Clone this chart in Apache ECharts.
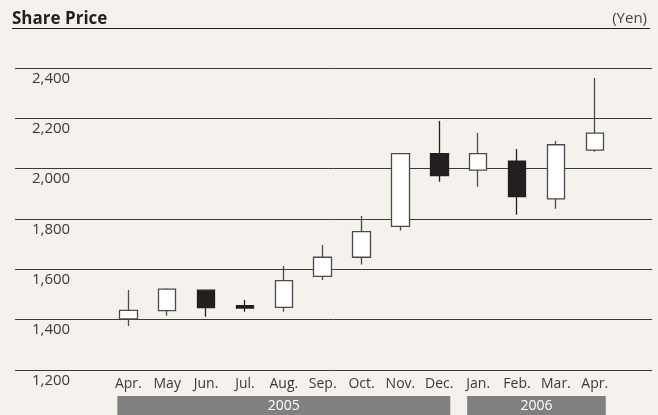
<!DOCTYPE html>
<html>
<head>
<meta charset="utf-8">
<script src="https://cdn.jsdelivr.net/npm/echarts@6/dist/echarts.min.js"></script>
<style>
html,body{margin:0;padding:0;background:#f5f1ed;}
#c{width:658px;height:415px;}
</style>
</head>
<body>
<div id="c"></div>
<script>
const categories = ['Apr.','May','Jun.','Jul.','Aug.','Sep.','Oct.','Nov.','Dec.','Jan.','Feb.','Mar.','Apr.'];
const openPrices  = [1403,1436,1517,1456,1449,1572,1648,1771,2060,1994,2030,1880,2074];
const closePrices = [1437,1521,1448,1446,1555,1648,1750,2060,1972,2060,1889,2095,2141];
const lowPrices   = [1375,1416,1412,1431,1431,1558,1619,1754,1948,1928,1817,1841,2067];
const highPrices  = [1518,1525,1518,1478,1613,1697,1812,2062,2189,2142,2078,2110,2360];
const yMin = 1200, yMax = 2400, yInterval = 200;
const yearLabels = ['2005','2006'];
const yearStart = [0, 9];
const yearEnd = [8, 12];

const candleData = categories.map((c, i) => [openPrices[i], closePrices[i], lowPrices[i], highPrices[i]]);

const chart = echarts.init(document.getElementById('c'), null, {renderer:'canvas'});
const textColor = '#3a3a3a';
const font = "'Open Sans', sans-serif";

chart.setOption({
  backgroundColor: '#f5f1ed',
  animation: false,
  title: [
    {text: 'Share Price', left: 7, top: 5.5, textStyle: {fontFamily: font, fontWeight: 'bold', fontSize: 17, color: '#231f20'}},
    {text: '(Yen)', right: 6, top: 6.5, textStyle: {fontFamily: font, fontWeight: 'normal', fontSize: 15, color: '#444'}}
  ],
  grid: [
    {left: 15, right: 6, top: 68, height: 302},
    {left: 108.9, right: 43.8, top: 68, height: 302}
  ],
  xAxis: [
    {gridIndex: 0, type: 'value', show: false, min: 0, max: 1},
    {gridIndex: 1, type: 'category', data: categories, boundaryGap: true,
     axisLine: {show: false}, axisTick: {show: false},
     axisLabel: {color: textColor, fontFamily: font, fontSize: 14, margin: 7}}
  ],
  yAxis: [
    {gridIndex: 0, type: 'value', min: yMin, max: yMax, interval: yInterval,
     axisLine: {show: false}, axisTick: {show: false},
     splitLine: {show: true, lineStyle: {color: '#3a3a3a', width: 1}},
     axisLabel: {inside: true, margin: 17, align: 'left', verticalAlign: 'top', padding: [3,0,0,0],
       color: textColor, fontFamily: font, fontSize: 15,
       formatter: v => v.toLocaleString('en-US')}},
    {gridIndex: 1, type: 'value', min: yMin, max: yMax, interval: yInterval, show: false}
  ],
  series: [{
    type: 'candlestick',
    xAxisIndex: 1, yAxisIndex: 1,
    barWidth: 18,
    data: candleData,
    itemStyle: {color: '#ffffff', color0: '#231f20', borderColor: '#4a4a4a', borderColor0: '#231f20', borderWidth: 1.3}
  }]
});

const graphics = [];
const barTop = 396, barHeight = 19;
yearLabels.forEach((lab, k) => {
  const x0 = chart.convertToPixel({xAxisIndex: 1}, yearStart[k]) - 11;
  const x1 = chart.convertToPixel({xAxisIndex: 1}, yearEnd[k]) + 11;
  graphics.push({type: 'rect', shape: {x: x0, y: barTop, width: x1 - x0, height: barHeight}, style: {fill: '#808080'}});
  graphics.push({type: 'text', x: (x0 + x1) / 2, y: barTop + barHeight / 2 + 0.5,
    style: {text: lab, fill: '#ffffff', font: "14px 'Open Sans', sans-serif", align: 'center', verticalAlign: 'middle'}});
});
graphics.push({type: 'line', shape: {x1: 12, y1: 28.5, x2: 650, y2: 28.5}, style: {stroke: '#231f20', lineWidth: 1.2}});
chart.setOption({graphic: graphics});
</script>
</body>
</html>
